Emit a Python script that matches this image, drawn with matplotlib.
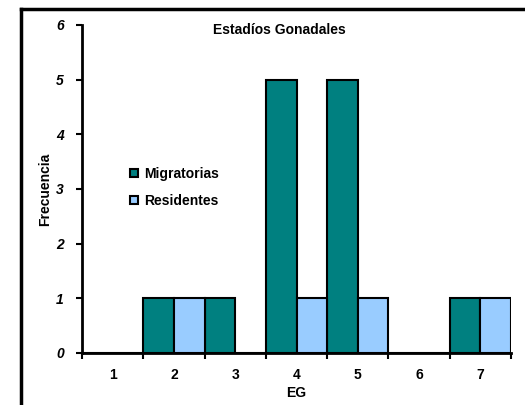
import matplotlib
matplotlib.use("Agg")
import matplotlib.pyplot as plt
from matplotlib.lines import Line2D
import numpy as np

plt.rcParams['font.family'] = ['Liberation Sans', 'DejaVu Sans']

# datos
estadios = [1, 2, 3, 4, 5, 6, 7]
migratorias = [0, 1, 1, 5, 5, 0, 1]
residentes = [0, 1, 0, 1, 1, 0, 1]
y_ticks = [0, 1, 2, 3, 4, 5, 6]

col_mig = '#008080'
col_res = '#99CCFF'

fig = plt.figure(figsize=(5.25, 4.05), dpi=100)
ax = fig.add_axes([82 / 525, 52 / 405, 429 / 525, 328 / 405])

x = np.array(estadios)
ax.bar(x - 0.25, migratorias, width=0.5, color=col_mig, edgecolor='black',
       linewidth=1.5, label='Migratorias', zorder=2)
ax.bar(x + 0.25, residentes, width=0.5, color=col_res, edgecolor='black',
       linewidth=1.5, label='Residentes', zorder=2)

ax.set_xlim(0.5, 7.5)
ax.set_ylim(0, 6)

# ticks en los limites de las categorias, etiquetas al centro
ax.set_xticks(np.arange(0.5, 8, 1))
ax.set_xticklabels([])
ax.set_xticks(x, minor=True)
ax.set_xticklabels([str(e) for e in estadios], minor=True,
                   fontsize=10, fontweight='bold')
ax.tick_params(axis='x', which='major', direction='out', length=4, width=1.5)
ax.tick_params(axis='x', which='minor', length=0, pad=11)

ax.set_yticks(y_ticks)
ax.set_yticklabels([str(v) for v in y_ticks], fontsize=10,
                   fontweight='bold', fontstyle='italic')
ax.tick_params(axis='y', direction='out', length=4, width=1.5, pad=9)

for s in ['top', 'right']:
    ax.spines[s].set_visible(False)
for s in ['left', 'bottom']:
    ax.spines[s].set_linewidth(2)
    ax.spines[s].set_zorder(3)

ax.set_xlabel('EG', fontsize=10, fontweight='bold', labelpad=3)
ax.set_ylabel('Frecuencia', fontsize=10, fontweight='bold', labelpad=3)

ax.text(0.46, 0.985, 'Estadíos Gonadales', transform=ax.transAxes,
        ha='center', va='center', fontsize=10, fontweight='bold')

handles = [Line2D([], [], marker='s', linestyle='none', markersize=6,
                  markerfacecolor=col_mig, markeredgecolor='black', markeredgewidth=1.5),
           Line2D([], [], marker='s', linestyle='none', markersize=6,
                  markerfacecolor=col_res, markeredgecolor='black', markeredgewidth=1.5)]
ax.legend(handles, ['Migratorias', 'Residentes'], loc='upper left',
          bbox_to_anchor=(0.08, 0.605), frameon=False, handlelength=0.7,
          handletextpad=0.4, labelspacing=0.95,
          prop={'size': 10, 'weight': 'bold'})

# marco del area del grafico
fig.add_artist(Line2D([21 / 525, 21 / 525], [0, 396 / 405], color='black',
                      linewidth=2.5, transform=fig.transFigure))
fig.add_artist(Line2D([21 / 525, 1], [396 / 405, 396 / 405], color='black',
                      linewidth=2.5, transform=fig.transFigure))

fig.savefig('out.png', dpi=100)
